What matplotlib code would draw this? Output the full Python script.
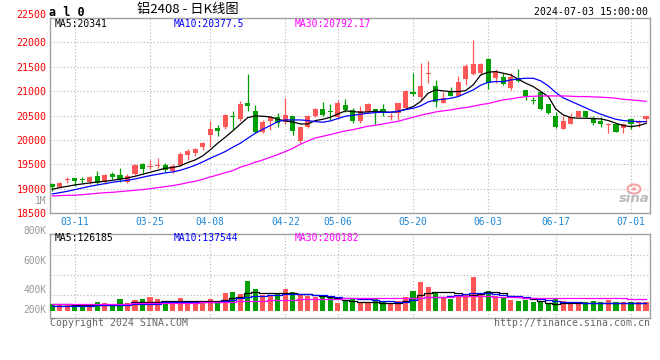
import matplotlib
matplotlib.use('Agg')
import matplotlib.pyplot as plt
from matplotlib.patches import Ellipse
import matplotlib.transforms as mtransforms
import numpy as np
import pandas as pd

# ---------------- data ----------------
holidays = ['2024-04-04', '2024-04-05', '2024-05-01', '2024-05-02', '2024-05-03', '2024-06-10']
tick_dates = ['03-11', '03-25', '04-08', '04-22', '05-06', '05-20', '06-03', '06-17', '07-01']

open_ = [19090, 19045, 19175, 19215, 19205, 19150, 19265, 19150, 19300, 19280,
         19150, 19305, 19510, 19445, 19460, 19490, 19375, 19490, 19695, 19730,
         19850, 20100, 20255, 20276, 20495, 20430, 20760, 20600, 20170, 20400,
         20467, 20380, 20495, 19990, 20276, 20494, 20638, 20597, 20467, 20720,
         20617, 20399, 20583, 20631, 20638, 20480, 20549, 20665, 20980, 20890,
         21348, 21109, 20768, 20993, 20911, 21246, 21348, 21369, 21655, 21280,
         21300, 21061, 21280, 21027, 20822, 20993, 20740, 20494, 20235, 20324,
         20481, 20597, 20447, 20399, 20317, 20324, 20242, 20426, 20358, 20426]
high = [19125, 19140, 19240, 19230, 19250, 19265, 19360, 19300, 19355, 19435,
        19305, 19500, 19540, 19590, 19625, 19525, 19505, 19750, 19825, 19830,
        19970, 20400, 20310, 20535, 20600, 20800, 21355, 20720, 20410, 20495,
        20550, 20860, 20495, 20262, 20520, 20665, 20788, 20740, 20822, 20836,
        20651, 20699, 20768, 20631, 20740, 20549, 20768, 21027, 21382, 21587,
        21621, 21232, 20993, 21082, 21314, 21553, 22052, 21574, 21690, 21451,
        21382, 21382, 21451, 21027, 20890, 20993, 20740, 20583, 20494, 20549,
        20597, 20597, 20494, 20467, 20358, 20344, 20344, 20447, 20412, 20494]
low = [18955, 19035, 19130, 19060, 19130, 19110, 19100, 19110, 19200, 19150,
       19115, 19285, 19320, 19400, 19420, 19350, 19335, 19470, 19595, 19675,
       19800, 19860, 20085, 20220, 20220, 20400, 20600, 20140, 20150, 20210,
       20260, 20330, 20105, 19950, 20250, 20467, 20494, 20412, 20447, 20583,
       20358, 20358, 20549, 20324, 20501, 20412, 20412, 20651, 20911, 20822,
       21164, 20686, 20760, 20900, 20900, 21130, 21340, 21334, 21048, 21164,
       21130, 21027, 21198, 20822, 20740, 20617, 20535, 20255, 20235, 20324,
       20467, 20447, 20303, 20262, 20139, 20160, 20153, 20221, 20262, 20358]
close = [19045, 19130, 19185, 19170, 19185, 19250, 19130, 19285, 19250, 19200,
         19270, 19490, 19400, 19465, 19490, 19390, 19470, 19715, 19785, 19820,
         19935, 20220, 20195, 20520, 20470, 20740, 20690, 20155, 20380, 20467,
         20345, 20515, 20195, 20262, 20494, 20638, 20515, 20569, 20768, 20617,
         20399, 20597, 20740, 20597, 20569, 20501, 20768, 21007, 20945, 21109,
         21382, 20788, 20870, 20911, 21198, 21519, 21560, 21553, 21164, 21403,
         21143, 21287, 21212, 20904, 20795, 20638, 20563, 20276, 20399, 20467,
         20597, 20467, 20358, 20324, 20330, 20173, 20324, 20324, 20399, 20494]

ma5 = [18992, 19026, 19053, 19081, 19101, 19122, 19142, 19156, 19176, 19197,
       19224, 19258, 19299, 19340, 19381, 19422, 19436, 19470, 19538, 19593,
       19675, 19798, 19934, 20057, 20187, 20324, 20460, 20494, 20488, 20474,
       20426, 20392, 20371, 20330, 20330, 20399, 20426, 20467, 20535, 20597,
       20583, 20569, 20576, 20590, 20576, 20569, 20583, 20631, 20686, 20788,
       20959, 21027, 21007, 20993, 20993, 21013, 21130, 21334, 21389, 21403,
       21369, 21334, 21246, 21164, 21095, 20993, 20891, 20631, 20515, 20460,
       20447, 20447, 20440, 20433, 20399, 20344, 20296, 20276, 20296, 20341]
ma10 = [18896, 18923, 18951, 18985, 19019, 19053, 19081, 19108, 19135, 19156,
        19176, 19203, 19238, 19272, 19299, 19326, 19347, 19381, 19429, 19484,
        19552, 19627, 19695, 19764, 19852, 19934, 20037, 20139, 20221, 20296,
        20378, 20412, 20412, 20412, 20399, 20378, 20365, 20392, 20440, 20488,
        20508, 20529, 20549, 20563, 20569, 20569, 20590, 20624, 20651, 20699,
        20781, 20822, 20836, 20856, 20891, 20959, 21027, 21123, 21184, 21198,
        21198, 21232, 21252, 21266, 21266, 21212, 21109, 20972, 20863, 20795,
        20727, 20658, 20590, 20529, 20474, 20426, 20399, 20385, 20378, 20377.5]
ma30 = [18855, 18862, 18869, 18869, 18882, 18896, 18910, 18923, 18930, 18944,
        18958, 18971, 18985, 19005, 19026, 19046, 19067, 19094, 19128, 19156,
        19197, 19244, 19285, 19333, 19374, 19443, 19490, 19545, 19593, 19647,
        19702, 19764, 19832, 19914, 19982, 20044, 20078, 20112, 20153, 20187,
        20214, 20248, 20283, 20303, 20330, 20358, 20385, 20426, 20467, 20508,
        20542, 20576, 20597, 20617, 20645, 20665, 20692, 20727, 20747, 20788,
        20822, 20843, 20870, 20891, 20897, 20904, 20904, 20904, 20904, 20897,
        20891, 20891, 20884, 20877, 20870, 20856, 20836, 20822, 20809, 20792.17]

# volume in thousands of lots
volume = [105, 105, 105, 100, 100, 105, 140, 115, 100, 180,
          115, 165, 180, 215, 180, 155, 130, 200, 140, 130,
          130, 180, 115, 270, 290, 255, 455, 330, 240, 240,
          265, 330, 280, 250, 225, 215, 215, 225, 125, 165,
          180, 140, 140, 180, 130, 115, 150, 215, 305, 440,
          365, 290, 200, 180, 240, 240, 515, 265, 300, 230,
          200, 165, 150, 160, 140, 150, 105, 180, 155, 130,
          130, 130, 150, 130, 165, 130, 130, 140, 130, 130]
vma5 = [100, 100, 100, 85, 85, 85, 95, 95, 95, 110,
        110, 135, 135, 135, 135, 145, 145, 145, 145, 145,
        145, 145, 145, 165, 190, 215, 265, 290, 275, 265,
        265, 265, 265, 260, 250, 240, 225, 215, 200, 165,
        150, 130, 130, 130, 120, 115, 125, 150, 190, 240,
        275, 290, 290, 280, 265, 225, 240, 255, 280, 280,
        275, 230, 215, 195, 175, 150, 120, 110, 120, 125,
        125, 115, 115, 120, 125, 125, 125, 125, 125, 126.185]
vma10 = [80, 80, 80, 75, 75, 75, 85, 85, 85, 95,
         95, 110, 110, 110, 110, 130, 130, 135, 135, 140,
         140, 140, 140, 150, 165, 190, 210, 225, 230, 240,
         240, 250, 255, 260, 260, 245, 235, 225, 210, 200,
         190, 180, 175, 165, 155, 150, 140, 130, 165, 200,
         215, 215, 215, 225, 235, 250, 265, 275, 270, 260,
         235, 230, 225, 215, 200, 175, 160, 150, 140, 135,
         130, 125, 125, 125, 125, 125, 125, 125, 120, 115]
vma30 = [110, 110, 110, 110, 110, 110, 110, 110, 110, 110,
         110, 115, 115, 115, 120, 120, 120, 125, 125, 125,
         130, 130, 135, 135, 140, 145, 150, 150, 155, 160,
         165, 170, 170, 175, 180, 180, 185, 185, 185, 190,
         190, 190, 190, 190, 190, 190, 190, 190, 195, 200,
         205, 215, 215, 215, 220, 220, 220, 220, 220, 215,
         215, 210, 205, 200, 200, 195, 190, 190, 190, 190,
         190, 190, 190, 190, 190, 190, 190, 185, 185, 180]

legend_main = ['MA5:20341', 'MA10:20377.5', 'MA30:20792.17']
legend_vol = ['MA5:126185', 'MA10:137544', 'MA30:200182']
price_ticks = [18500, 19000, 19500, 20000, 20500, 21000, 21500, 22000, 22500]

# ---------------- style ----------------
RED = '#ff5656'
GREEN = '#00a000'
GRID = '#b4b4b4'
SPINE = '#a0a0a0'
DATEBLUE = '#1e87d6'
MONO = 'DejaVu Sans Mono'
W, H = 660, 360

days = pd.bdate_range('2024-03-06', '2024-07-03')
days = days[~days.isin(pd.to_datetime(holidays))]
labels_all = [d.strftime('%m-%d') for d in days]
tick_pos = [labels_all.index(t) for t in tick_dates]

o = np.array(open_, float); c = np.array(close, float)
h = np.array(high, float); l = np.array(low, float)
x = np.arange(len(o))
up = c >= o
cols = np.where(up, RED, GREEN)

fig = plt.figure(figsize=(6.6, 3.6), dpi=100)
fig.patch.set_facecolor('white')

def fx(px):
    return px / W

def fy(py):
    return 1 - py / H

ax = fig.add_axes([fx(50), fy(213.3), fx(600), 195.3 / H])
axv = fig.add_axes([fx(50), fy(318.3), fx(600), 84 / H])

xlim = (-0.31, 79.53)

# main panel
body_bot = np.minimum(o, c)
body_h = np.maximum(np.abs(c - o), 22)
ax.vlines(x, l, h, colors=cols, linewidth=0.9, zorder=3)
ax.bar(x, body_h, bottom=body_bot, width=0.68, color=cols, linewidth=0, zorder=4)
ax.plot(x, ma5, color='black', lw=0.9, zorder=5)
ax.plot(x, ma10, color='#0000ff', lw=0.9, zorder=5)
ax.plot(x, ma30, color='#ff00ff', lw=0.9, zorder=5)

ax.set_xlim(*xlim)
ax.set_ylim(18500, 22500)
ax.set_yticks(price_ticks)
ax.set_yticklabels([str(p) for p in price_ticks], color='red', fontfamily=MONO, fontsize=7.2)
ax.set_xticks(tick_pos)
ax.set_xticklabels(tick_dates, color=DATEBLUE, fontfamily=MONO, fontsize=6.9)
ax.tick_params(length=0, pad=3)
ax.tick_params(axis='y', pad=2.5)
ax.grid(True, color=GRID, linestyle=(0, (1, 2)), linewidth=0.8)
ax.set_axisbelow(True)
for s in ax.spines.values():
    s.set_color(SPINE)
    s.set_linewidth(1.0)
# top price label sits a little above the frame
top_lab = ax.get_yticklabels()[-1]
top_lab.set_transform(top_lab.get_transform() +
                      mtransforms.ScaledTranslation(0, 3.5 / 100, fig.dpi_scale_trans))

# volume panel
axv.bar(x, volume, width=0.68, color=cols, linewidth=0, zorder=3)
axv.plot(x, vma5, color='black', lw=0.9, drawstyle='steps-mid', zorder=4)
axv.plot(x, vma10, color='#0000ff', lw=0.9, drawstyle='steps-mid', zorder=4)
axv.plot(x, vma30, color='#ff00ff', lw=0.9, drawstyle='steps-mid', zorder=4)
axv.set_xlim(*xlim)
axv.set_ylim(-110, 1150)
axv.set_xticks(tick_pos)
axv.set_xticklabels([])
axv.set_yticks([235, 540, 840])
axv.set_yticklabels([])
axv.tick_params(length=0)
axv.grid(True, color=GRID, linestyle=(0, (1, 2)), linewidth=0.8)
axv.set_axisbelow(True)
for s in axv.spines.values():
    s.set_color(SPINE)
    s.set_linewidth(1.0)

# ---------------- texts ----------------
fig.text(fx(49), fy(12), 'a l 0', fontfamily=MONO, fontweight='bold', fontsize=8.5,
         va='center', ha='left', color='black')
fig.text(fx(137), fy(10), '铝2408 - 日K线图', fontfamily=['Noto Sans CJK SC', 'DejaVu Sans'],
         fontsize=9.5, va='center', ha='left', color='black')
fig.text(fx(648), fy(12.3), '2024-07-03 15:00:00', fontfamily=MONO, fontsize=7.1,
         va='center', ha='right', color='black')

leg_x = [55, 174, 295]
leg_c = ['black', '#0000ff', '#ff00ff']
for t, xx, cc in zip(legend_main, leg_x, leg_c):
    fig.text(fx(xx), fy(24.3), t, fontfamily=MONO, fontsize=7.0, va='center', ha='left', color=cc)
for t, xx, cc in zip(legend_vol, leg_x, leg_c):
    fig.text(fx(xx), fy(238.3), t, fontfamily=MONO, fontsize=7.0, va='center', ha='left', color=cc)

fig.text(fx(46.5), fy(200.7), '1M', fontfamily=MONO, fontsize=6.9, va='center', ha='right', color='#999999')
for lab, yy in zip(['800K', '600K', '400K', '200K'], [230.7, 260.7, 290.3, 310.0]):
    fig.text(fx(46.5), fy(yy), lab, fontfamily=MONO, fontsize=6.9, va='center', ha='right', color='#999999')

fig.text(fx(50), fy(323.3), 'Copyright 2024 SINA.COM', fontfamily=MONO, fontsize=7.1,
         va='center', ha='left', color='#666666')
fig.text(fx(650), fy(323.3), 'http://finance.sina.com.cn', fontfamily=MONO, fontsize=7.1,
         va='center', ha='right', color='#666666')

# sina watermark
fig.add_artist(Ellipse((fx(634), fy(189)), fx(13), 9 / H, transform=fig.transFigure,
                       facecolor='none', edgecolor='#f3a3a3', linewidth=1.5, zorder=6))
fig.add_artist(Ellipse((fx(634), fy(189)), fx(4.5), 3.5 / H, transform=fig.transFigure,
                       facecolor='#f3a3a3', edgecolor='none', zorder=6))
fig.text(fx(634), fy(199), 'sina', fontfamily='DejaVu Sans', fontsize=9.5, fontweight='bold',
         fontstyle='italic', va='center', ha='center', color='#b9b9b9', zorder=7)

fig.savefig('out.png', dpi=100)
